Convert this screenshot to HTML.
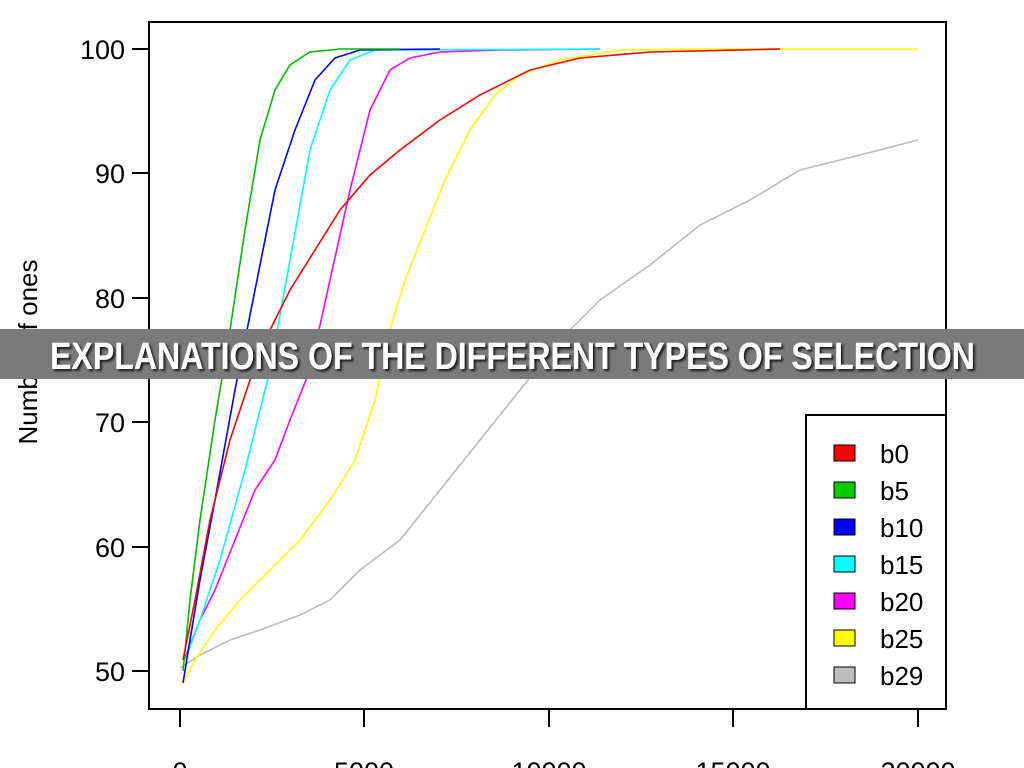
<!DOCTYPE html>
<html><head><style>
body{margin:0;width:1024px;height:768px;overflow:hidden;background:#fff;font-family:"Liberation Sans",sans-serif}
</style></head><body>
<svg width="1024" height="768" style="position:absolute;left:0;top:0" font-family="Liberation Sans, sans-serif">
<defs><filter id="sh"><feDropShadow dx="2" dy="2" stdDeviation="1" flood-color="#111" flood-opacity="0.9"/></filter></defs>
<rect x="149" y="22" width="797" height="687" fill="none" stroke="#000" stroke-width="2"/>
<g stroke="#000" stroke-width="2">
<line x1="132" y1="49" x2="149" y2="49"/><line x1="132" y1="173" x2="149" y2="173"/><line x1="132" y1="298" x2="149" y2="298"/><line x1="132" y1="422" x2="149" y2="422"/><line x1="132" y1="547" x2="149" y2="547"/><line x1="132" y1="671" x2="149" y2="671"/>
<line x1="180" y1="709" x2="180" y2="727"/><line x1="364" y1="709" x2="364" y2="727"/><line x1="549" y1="709" x2="549" y2="727"/><line x1="733" y1="709" x2="733" y2="727"/><line x1="918" y1="709" x2="918" y2="727"/>
</g>
<g font-size="27" text-anchor="end" fill="#000">
<text x="125" y="59">100</text><text x="125" y="183">90</text><text x="125" y="308">80</text><text x="125" y="432">70</text><text x="125" y="557">60</text><text x="125" y="681">50</text>
</g>
<g font-size="27" text-anchor="middle">
<text x="180" y="781">0</text><text x="364" y="781">5000</text><text x="549" y="781">10000</text><text x="733" y="781">15000</text><text x="918" y="781">20000</text>
</g>
<text transform="translate(37,352) rotate(-90)" font-size="26" text-anchor="middle">Number of ones</text>
<g fill="none" stroke-width="1.6">
<polyline stroke="#bbb" points="180,668 200,655 230,640 260,630 300,615 330,600 360,570 400,540 440,490 480,440 520,390 560,340 600,300 650,265 700,225 750,200 800,170 860,155 918,140"/>
<polyline stroke="#ffff00" points="183,683 195,660 215,630 240,600 270,570 300,540 330,500 355,460 375,400 390,330 405,280 425,230 445,180 470,130 495,95 520,75 560,60 620,50 700,49 918,49"/>
<polyline stroke="#ff00ff" points="185,658 200,620 215,590 235,540 255,490 275,460 290,420 310,370 330,280 350,190 370,110 390,70 410,58 440,52 500,50 600,49"/>
<polyline stroke="#00ffff" points="185,660 200,620 220,560 245,470 270,370 290,260 310,150 330,90 350,60 375,50 600,49"/>
<polyline stroke="#0000ff" points="183,683 190,640 200,580 215,500 235,390 255,290 275,190 295,130 315,80 335,58 360,50 440,49"/>
<polyline stroke="#00bb00" points="183,671 190,600 200,520 215,420 230,330 245,230 260,140 275,90 290,65 310,52 340,49 400,49"/>
<polyline stroke="#ff0000" points="183,660 195,600 210,520 230,440 250,380 270,330 290,290 315,250 340,210 370,175 400,150 440,120 480,95 530,70 580,58 650,52 780,49"/>
</g>
<rect x="806" y="415" width="140" height="294" fill="#fff" stroke="#000" stroke-width="2"/>
<g stroke="#000" stroke-width="1">
<rect x="834" y="445" width="21" height="16" fill="#ff0000"/>
<rect x="834" y="482" width="21" height="16" fill="#00cc00"/>
<rect x="834" y="519" width="21" height="16" fill="#0000ff"/>
<rect x="834" y="556" width="21" height="16" fill="#00ffff"/>
<rect x="834" y="593" width="21" height="16" fill="#ff00ff"/>
<rect x="834" y="630" width="21" height="16" fill="#ffff00"/>
<rect x="834" y="667" width="21" height="16" fill="#bebebe"/>
</g>
<g font-size="26">
<text x="880" y="463">b0</text><text x="880" y="500">b5</text><text x="880" y="537">b10</text><text x="880" y="574">b15</text><text x="880" y="611">b20</text><text x="880" y="648">b25</text><text x="880" y="685">b29</text>
</g>
<rect x="0" y="329" width="1024" height="50" fill="#7a7a7a"/>
<text x="50" y="369" font-size="38" font-weight="bold" fill="#fff" textLength="925" lengthAdjust="spacingAndGlyphs" filter="url(#sh)">EXPLANATIONS OF THE DIFFERENT TYPES OF SELECTION</text>
</svg>
</body></html>
